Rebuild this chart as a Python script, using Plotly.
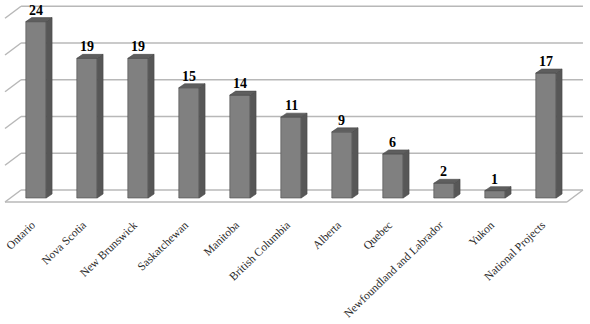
import plotly.graph_objects as go

categories = ["Ontario", "Nova Scotia", "New Brunswick", "Saskatchewan", "Manitoba",
              "British Columbia", "Alberta", "Quebec", "Newfoundland and Labrador",
              "Yukon", "National Projects"]
values = [24, 19, 19, 15, 14, 11, 9, 6, 2, 1, 17]
grid_values = [0, 5, 10, 15, 20, 25]

# pseudo-3D geometry (in data units)
BAR_W = 0.4
DX_STEP = 0.105   # x shift per depth step
DY_STEP = 0.544   # y shift per depth step
BAR_DX = 0.115
BAR_DY = 0.544
LEFT_FRONT = -0.608
RIGHT_FRONT = 10.41

FRONT = "#808080"
SIDE = "#575757"
TOP = "#5e5e5e"
GRID = "#b8b8b8"

xs = list(range(len(categories)))

fig = go.Figure()

fig.add_trace(go.Bar(x=xs, y=values, base=0, width=BAR_W,
                     marker=dict(color=FRONT, line=dict(color="#4a4a4a", width=0.6)),
                     hoverinfo="skip"))

side_x, side_y, top_x, top_y = [], [], [], []
for i, v in zip(xs, values):
    r = i + BAR_W / 2
    l = i - BAR_W / 2
    side_x += [r, r, r + BAR_DX, r + BAR_DX, r, None]
    side_y += [0, v, v + BAR_DY, BAR_DY, 0, None]
    top_x += [l, r, r + BAR_DX, l + BAR_DX, l, None]
    top_y += [v, v, v + BAR_DY, v + BAR_DY, v, None]

fig.add_trace(go.Scatter(x=side_x, y=side_y, mode="lines", fill="toself",
                         fillcolor=SIDE, line=dict(color="#4a4a4a", width=0.6),
                         hoverinfo="skip"))
fig.add_trace(go.Scatter(x=top_x, y=top_y, mode="lines", fill="toself",
                         fillcolor=TOP, line=dict(color="#4a4a4a", width=0.6),
                         hoverinfo="skip"))

shapes = []
wall_left = LEFT_FRONT + 3 * DX_STEP
wall_right = RIGHT_FRONT + 3 * DX_STEP
for g in grid_values:
    yw = g + 2 * DY_STEP
    shapes.append(dict(type="line", xref="x", yref="y", layer="below",
                       x0=wall_left, x1=wall_right, y0=yw, y1=yw,
                       line=dict(color=GRID, width=1.5)))
    shapes.append(dict(type="line", xref="x", yref="y", layer="below",
                       x0=LEFT_FRONT, x1=wall_left, y0=g - DY_STEP, y1=yw,
                       line=dict(color=GRID, width=1.5)))
# floor front and right edges
shapes.append(dict(type="line", xref="x", yref="y", layer="below",
                   x0=LEFT_FRONT, x1=RIGHT_FRONT, y0=-DY_STEP, y1=-DY_STEP,
                   line=dict(color=GRID, width=1.5)))
shapes.append(dict(type="line", xref="x", yref="y", layer="below",
                   x0=RIGHT_FRONT, x1=wall_right, y0=-DY_STEP, y1=2 * DY_STEP,
                   line=dict(color=GRID, width=1.5)))

annotations = []
for i, v in zip(xs, values):
    annotations.append(dict(x=i, y=v + BAR_DY, xref="x", yref="y", text="<b>" + str(v) + "</b>",
                            showarrow=False, yanchor="bottom", yshift=-2,
                            font=dict(family="Liberation Serif", size=14, color="#000000")))

fig.update_layout(
    width=590, height=324,
    margin=dict(l=0, r=0, t=0, b=119),
    paper_bgcolor="white", plot_bgcolor="white",
    showlegend=False,
    shapes=shapes, annotations=annotations,
    xaxis=dict(range=[-0.706, 10.863], tickmode="array", tickvals=xs, ticktext=categories,
               tickangle=-44, showgrid=False, zeroline=False, showline=False, ticks="",
               ticklabelstandoff=10, ticklabelshift=-4,
               tickfont=dict(family="Liberation Serif", size=11.5, color="#2a2a2a")),
    yaxis=dict(range=[-0.952, 26.94], showgrid=False, zeroline=False, showline=False,
               showticklabels=False, ticks=""),
)

fig.write_html("out.html")
